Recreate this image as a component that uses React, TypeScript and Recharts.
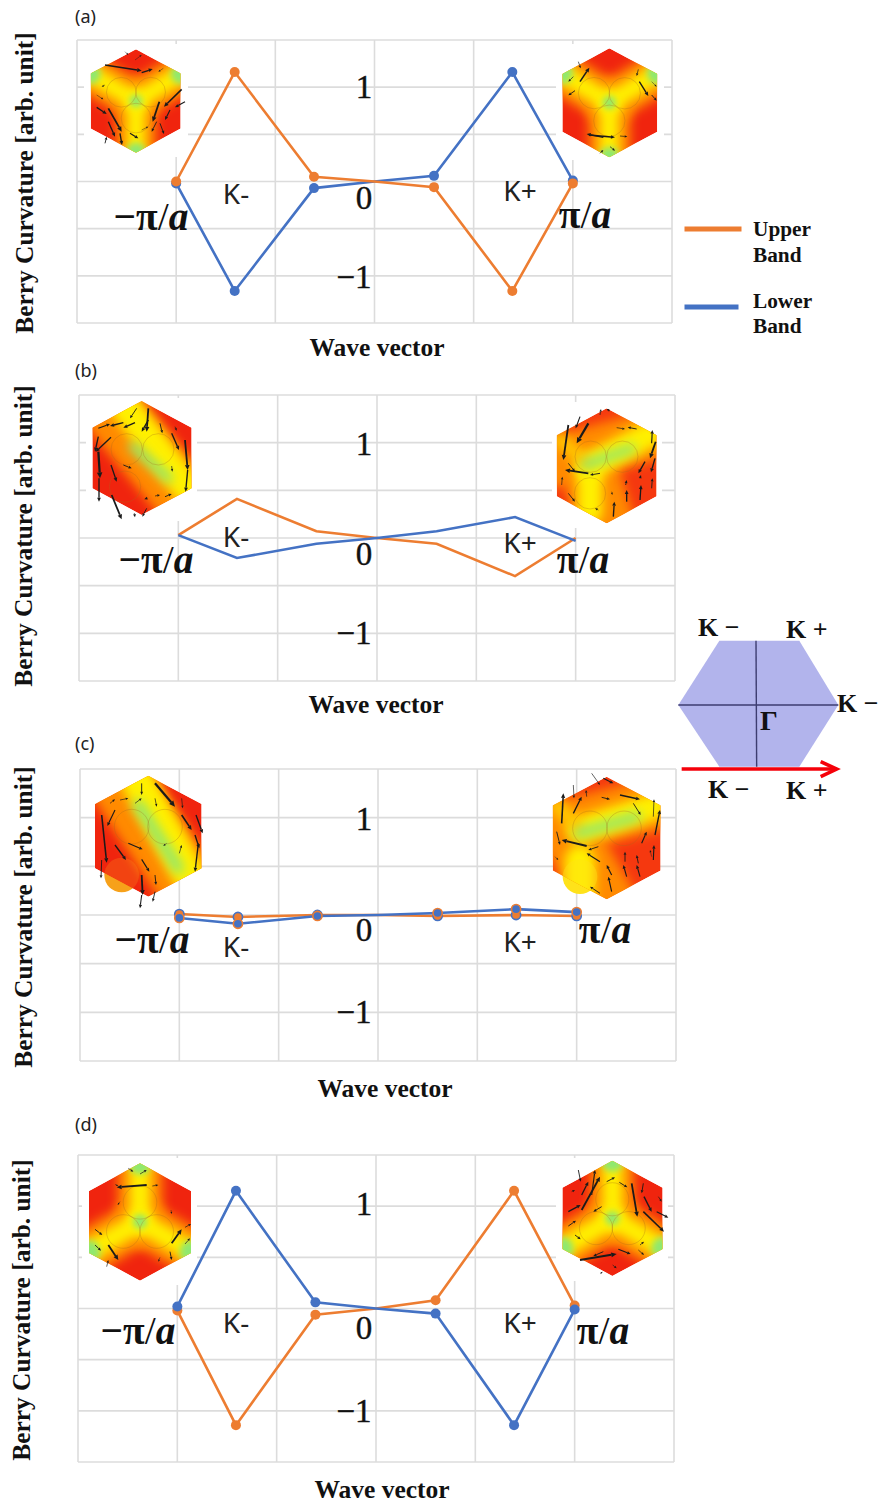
import React from "react";
import { LineChart, Line, XAxis, YAxis, CartesianGrid, Label, Legend, ReferenceArea } from "recharts";

const UPPER = "#ED7D31";
const LOWER = "#4472C4";
const GRID = "#dcdcdc";
const SERIF = "'Liberation Serif', serif";
const SANS = "'Noto Sans', 'Open Sans', sans-serif";

// shared wave-vector positions
const kPoints = [-2, -1.41, -0.61, 0, 0.6, 1.39, 2];
const xGridTicks = [-3, -2, -1, 0, 1, 2, 3];
const yGridTicks = [-1.5, -1, -0.5, 0, 0.5, 1, 1.5];

const upperA = [0, 1.16, 0.05, 0, -0.06, -1.16, -0.02];
const lowerA = [-0.02, -1.16, -0.07, 0, 0.06, 1.16, 0.01];
const upperB = [0.03, 0.41, 0.07, 0, -0.06, -0.4, 0];
const lowerB = [0.03, -0.21, -0.06, 0, 0.07, 0.22, -0.03];
const upperC = [0.01, -0.02, 0, 0, -0.01, 0, -0.01];
const lowerC = [-0.03, -0.09, -0.01, 0, 0.02, 0.06, 0.03];
const upperD = [-0.02, -1.14, -0.06, 0, 0.08, 1.15, 0.03];
const lowerD = [0.02, 1.15, 0.06, 0, -0.05, -1.14, -0.01];

const yTitle = "Berry Curvature [arb. unit]";
const xTitle = "Wave vector";

type P = {
  tag: string; tagY: number; frame: [number, number, number, number];
  upper: number[]; lower: number[]; xT: [number, number]; yT: [number, number];
  tick: Record<string, [number, number]>; dots: "plain" | "ring" | "none"; upperFirst: boolean;
  boxes: [number, number, number, number][];
  ann: { km: [number, number]; kp: [number, number]; nl: [number, number]; pl: [number, number] };
};

const panels: P[] = [
  { tag: "(a)", tagY: 23, frame: [77, 672, 40, 323], upper: upperA, lower: lowerA, xT: [377, 356], yT: [33, 183],
    tick: { "1": [364, 98], "0": [364, 209], "-1": [354, 288] }, dots: "plain", upperFirst: false,
    boxes: [[84, 44, 188, 157], [556, 44, 664, 160]],
    ann: { km: [236, 204], kp: [520, 201], nl: [151, 230], pl: [585, 228] } },
  { tag: "(b)", tagY: 377, frame: [79, 675, 395, 681], upper: upperB, lower: lowerB, xT: [376, 713], yT: [32, 536],
    tick: { "1": [364, 455], "0": [364, 565], "-1": [354, 644] }, dots: "none", upperFirst: true,
    boxes: [[86, 398, 197, 521], [552, 402, 662, 528]],
    ann: { km: [236, 547], kp: [520, 553], nl: [156, 573], pl: [583, 573] } },
  { tag: "(c)", tagY: 750, frame: [80, 676, 769, 1061], upper: upperC, lower: lowerC, xT: [385, 1097], yT: [32, 917],
    tick: { "1": [364, 830], "0": [364, 941], "-1": [354, 1023] }, dots: "ring", upperFirst: true,
    boxes: [],
    ann: { km: [236, 957], kp: [520, 952], nl: [152, 953], pl: [605, 943] } },
  { tag: "(d)", tagY: 1131, frame: [78, 674, 1155, 1462], upper: upperD, lower: lowerD, xT: [382, 1498], yT: [30, 1310],
    tick: { "1": [364, 1215], "0": [364, 1339], "-1": [354, 1422] }, dots: "plain", upperFirst: true,
    boxes: [[82, 1158, 197, 1285], [556, 1158, 668, 1281]],
    ann: { km: [236, 1333], kp: [520, 1333], nl: [138, 1344], pl: [603, 1344] } },
];

const rows = (p: P) => kPoints.map((k, i) => ({ k, upper: p.upper[i], lower: p.lower[i] }));

function PanelChart({ p, legend }: { p: P; legend?: boolean }) {
  const [L, R, T, B] = p.frame;
  const chartTop = T - 10;
  const H = Math.min(B - T + 10 + 60, 1503 - chartTop);
  const xH = H - 10 - (B - T);
  const toX = (px: number) => ((px - L) / (R - L)) * 6 - 3;
  const toY = (py: number) => 1.5 - ((py - T) / (B - T)) * 3;
  const dot = (color: string, ring: string | null) => (d: any) => {
    if (p.dots === "none" || d.index === 3) return <g key={d.key ?? d.index} />;
    return <circle key={d.key ?? d.index} cx={d.cx} cy={d.cy} r={ring ? 4.6 : 5} fill={color} stroke={ring ?? color} strokeWidth={ring ? 1.6 : 0} />;
  };
  const lineU = <Line key="u" dataKey="upper" name="Upper Band" stroke={UPPER} strokeWidth={2.6} isAnimationActive={false} dot={dot(UPPER, p.dots === "ring" ? LOWER : null)} activeDot={false} />;
  const lineL = <Line key="l" dataKey="lower" name="Lower Band" stroke={LOWER} strokeWidth={2.6} isAnimationActive={false} dot={dot(LOWER, p.dots === "ring" ? UPPER : null)} activeDot={false} />;
  const yTick = (t: any) => {
    const key = String(t.payload.value);
    const pos = p.tick[key];
    if (!pos) return <g />;
    return (
      <text x={pos[0]} y={pos[1] - chartTop} textAnchor="middle" fontFamily={SERIF} fontSize={33} fill="#111" stroke="#111" strokeWidth={0.4}>
        {key === "-1" ? "\u22121" : key}
      </text>
    );
  };
  return (
    <div style={{ position: "absolute", left: 0, top: chartTop }}>
      <LineChart width={880} height={H} data={rows(p)} margin={{ top: 10, right: 880 - R, bottom: 0, left: 0 }}>
        <CartesianGrid stroke={GRID} strokeWidth={1.6} verticalValues={xGridTicks} horizontalValues={yGridTicks} />
        {p.boxes.map((b, i) => (
          <ReferenceArea key={i} x1={toX(b[0])} x2={toX(b[2])} y1={toY(b[3])} y2={toY(b[1])} fill="#fff" fillOpacity={1} stroke="none" ifOverflow="visible" />
        ))}
        <XAxis dataKey="k" type="number" domain={[-3, 3]} ticks={xGridTicks} tick={() => <g />} tickLine={false} axisLine={false} height={xH} interval={0}>
          <Label content={() => (
            <text x={p.xT[0]} y={p.xT[1] - chartTop} textAnchor="middle" fontFamily={SERIF} fontWeight={700} fontSize={25.5} fill="#111">{xTitle}</text>
          )} />
        </XAxis>
        <YAxis type="number" domain={[-1.5, 1.5]} ticks={yGridTicks} width={L} tick={yTick} tickLine={false} axisLine={false} interval={0}>
          <Label content={() => (
            <text transform={`translate(${p.yT[0]},${p.yT[1] - chartTop}) rotate(-90)`} textAnchor="middle" fontFamily={SERIF} fontWeight={700} fontSize={25.4} fill="#111">{yTitle}</text>
          )} />
        </YAxis>
        {p.upperFirst ? [lineU, lineL] : [lineL, lineU]}
        {legend && (
          <Legend layout="vertical" align="center" verticalAlign="middle"
            wrapperStyle={{ left: 680, top: 175, width: 170, height: 140 }}
            content={(lp: any) => {
              const items = [...(lp.payload ?? [])].sort((a: any, b: any) => (a.value < b.value ? 1 : -1));
              return (
                <svg width={170} height={140} style={{ display: "block" }}>
                  {items.map((it: any, i: number) => {
                    const [a, b] = String(it.value).split(" ");
                    const y0 = i === 0 ? 24 : 102;
                    const tx = i === 0 ? y0 + 7 : y0 + 0.5;
                    return (
                      <g key={it.value}>
                        <rect x={4.5} y={y0 - 2.5} width={i === 0 ? 57 : 54} height={5} fill={it.color} />
                        <text x={73} y={tx} fontFamily={SERIF} fontWeight={700} fontSize={21.3} fill="#111">{a}</text>
                        <text x={73} y={tx + 25.5} fontFamily={SERIF} fontWeight={700} fontSize={21.3} fill="#111">{b}</text>
                      </g>
                    );
                  })}
                </svg>
              );
            }} />
        )}
      </LineChart>
    </div>
  );
}

// ---------- Hexagon insets (decorative heat-maps; coordinates in 3x crop pixels) ----------
type Band = [number, number, number, number, number, string];
type Inset = {
  o: [number, number]; hex: [number, number, number, number, number]; // left,right,top,bottom, centre x
  base: string; bands: Band[]; blobs: [number, number, number, string][]; circles: [number, number, number][];
  filled?: [number, number, number, string, number]; arrows: number[][];
};
const OR = "#ff8a00", YE = "#fff000", GR = "#8fe870";

function tri(cx: number, cy: number, vs: [number, number][], W: number): { bands: Band[]; blobs: [number, number, number, string][]; circles: [number, number, number][] } {
  const bands: Band[] = [];
  const blobs: [number, number, number, string][] = [];
  const circles: [number, number, number][] = [];
  vs.forEach(([x, y]) => {
    bands.push([cx, cy, x, y, 0.44 * W, OR]);
  });
  vs.forEach(([x, y]) => {
    bands.push([cx, cy, x, y, 0.2 * W, YE]);
    blobs.push([x, y, 0.11 * W, GR]);
    const d = Math.hypot(x - cx, y - cy);
    circles.push([cx + ((x - cx) / d) * 0.19 * W, cy + ((y - cy) / d) * 0.19 * W, 0.165 * W]);
  });
  blobs.push([cx, cy, 0.07 * W, GR]);
  return { bands, blobs, circles };
}

const insets: Inset[] = [
  { o: [60, 0], hex: [92, 362, 148, 458, 228], base: "#f0240e", ...tri(228, 303, [[92, 222], [362, 222], [228, 458]], 270),
    arrows: [[135, 195, 245, 212, 3.5], [245, 218, 278, 207, 3], [365, 268, 312, 320, 3.5], [298, 305, 278, 365, 4], [330, 330, 315, 360, 2.5], [375, 305, 345, 322, 2.5], [110, 322, 140, 342, 3], [145, 325, 185, 395, 4], [145, 365, 165, 410, 3], [180, 400, 186, 435, 3], [210, 400, 235, 415, 2.5], [300, 370, 312, 402, 2], [290, 365, 275, 395, 2], [135, 255, 125, 260, 1], [110, 285, 130, 298, 1], [245, 390, 265, 380, 1], [195, 155, 205, 165, 1], [225, 180, 245, 165, 1], [310, 205, 295, 215, 1], [135, 430, 140, 410, 2]] },
  { o: [540, 30], hex: [67, 352, 55, 382, 208], base: "#f0240e", ...tri(208, 218, [[67, 130], [352, 130], [208, 382]], 285),
    arrows: [[120, 155, 148, 113, 3.5], [115, 95, 122, 115, 1.5], [100, 140, 85, 155, 1.5], [105, 182, 85, 196, 2], [298, 155, 325, 198, 3], [335, 195, 350, 212, 2], [295, 118, 290, 138, 1.5], [148, 315, 225, 322, 3], [190, 322, 140, 312, 3], [240, 318, 262, 320, 1.5], [180, 370, 190, 360, 1.5], [210, 350, 225, 362, 1.5], [335, 155, 350, 170, 1]] },
  { o: [75, 390], hex: [52, 350, 33, 375, 200], base: "#f0240e",
    bands: [[110, 60, 340, 340, 180, OR], [150, 50, 340, 300, 90, YE], [175, 170, 280, 265, 28, GR]], blobs: [], circles: [[155, 178, 47], [250, 178, 47], [150, 290, 47]],
    arrows: [[185, 55, 165, 85, 2], [220, 55, 215, 125, 4], [220, 90, 200, 125, 3], [145, 98, 105, 108, 3], [180, 98, 145, 113, 3], [70, 115, 105, 102, 2.5], [70, 140, 60, 185, 3], [108, 142, 62, 185, 3], [70, 185, 75, 265, 5], [72, 265, 72, 335, 3], [108, 225, 125, 275, 3], [110, 315, 140, 388, 4], [255, 100, 262, 130, 2], [290, 130, 312, 180, 3], [330, 150, 338, 240, 4], [338, 240, 332, 305, 3], [300, 110, 305, 122, 1.5], [145, 225, 170, 235, 2], [290, 228, 292, 245, 1.5], [215, 325, 208, 328, 2], [240, 318, 255, 315, 1.5], [270, 320, 290, 312, 2], [178, 370, 180, 382, 2], [215, 355, 202, 380, 2]] },
  { o: [535, 395], hex: [65, 365, 40, 385, 215], base: "#f5380f",
    bands: [[60, 200, 350, 120, 150, OR], [165, 230, 215, 390, 170, OR], [160, 215, 340, 120, 80, YE], [165, 230, 165, 350, 75, YE], [70, 130, 150, 200, 40, "#ffc800"], [150, 210, 290, 160, 28, GR]], blobs: [], circles: [[167, 185, 47], [262, 185, 47], [165, 295, 47]],
    arrows: [[100, 90, 85, 195, 4], [135, 65, 122, 100, 2.5], [160, 85, 125, 145, 5], [195, 60, 198, 42, 1.5], [225, 48, 215, 42, 1.5], [245, 98, 270, 102, 1.5], [305, 102, 278, 97, 2], [350, 145, 352, 105, 2.5], [362, 140, 345, 190, 4], [360, 190, 348, 232, 3], [330, 200, 310, 235, 3], [160, 235, 90, 225, 4], [100, 205, 120, 230, 2], [195, 235, 165, 240, 2], [80, 270, 82, 245, 1.5], [100, 295, 120, 320, 2], [190, 345, 180, 340, 1.5], [235, 365, 238, 320, 3], [275, 320, 275, 285, 3], [230, 290, 232, 300, 1], [315, 315, 318, 270, 3], [272, 270, 275, 255, 2], [315, 250, 318, 240, 2], [350, 280, 352, 250, 2]] },
  { o: [60, 760], hex: [105, 425, 47, 410, 265], base: "#f0240e",
    bands: [[150, 20, 400, 400, 190, OR], [220, 40, 390, 350, 100, YE], [235, 135, 355, 325, 34, GR]], blobs: [], circles: [[215, 200, 52], [315, 200, 52]],
    filled: [185, 345, 52, "#f7a11a", 0.25],
    arrows: [[285, 70, 345, 140, 5], [245, 70, 245, 105, 2], [225, 130, 245, 115, 1.5], [180, 120, 205, 115, 1.5], [150, 130, 165, 118, 1.5], [285, 115, 290, 140, 1.5], [365, 115, 368, 145, 1.5], [365, 165, 395, 210, 3.5], [408, 165, 428, 220, 3], [165, 150, 142, 198, 2.5], [125, 165, 140, 308, 3.5], [125, 300, 123, 355, 2], [165, 255, 198, 300, 3], [205, 250, 248, 268, 2.5], [245, 298, 268, 335, 2.5], [285, 345, 288, 375, 2], [245, 345, 248, 405, 4], [245, 405, 240, 445, 2.5], [285, 395, 278, 425, 2], [415, 250, 405, 335, 3], [358, 280, 365, 255, 1.5], [320, 250, 310, 258, 1], [405, 225, 418, 265, 3]] },
  { o: [480, 760], hex: [218, 542, 50, 418, 380], base: "#f5380f",
    bands: [[220, 210, 530, 130, 160, OR], [300, 280, 380, 420, 170, OR], [300, 210, 520, 140, 80, YE], [300, 300, 300, 400, 90, YE], [225, 130, 290, 200, 45, "#ffc800"], [295, 220, 470, 170, 30, GR]], blobs: [], circles: [[330, 205, 52], [432, 205, 52]],
    filled: [300, 350, 52, "#ffe21a", 0.4],
    arrows: [[335, 40, 360, 75, 1.5], [370, 55, 400, 70, 2.5], [280, 75, 282, 115, 1.5], [280, 160, 305, 110, 3], [245, 190, 250, 100, 3.5], [320, 110, 318, 90, 1.5], [365, 112, 390, 118, 2], [420, 105, 480, 118, 3], [460, 130, 482, 165, 2], [230, 215, 240, 255, 2], [320, 258, 245, 240, 4], [355, 260, 325, 270, 2], [520, 170, 522, 118, 1.5], [525, 225, 540, 150, 3], [485, 250, 500, 215, 2.5], [520, 300, 522, 255, 2.5], [360, 305, 320, 280, 2.5], [435, 305, 435, 275, 2], [475, 310, 470, 285, 2], [440, 350, 430, 315, 2.5], [480, 350, 470, 315, 2.5], [395, 345, 380, 315, 2.5], [395, 395, 385, 350, 2.5], [360, 400, 330, 380, 2], [225, 290, 235, 300, 1], [515, 290, 510, 270, 1]] },
  { o: [75, 1150], hex: [42, 348, 40, 392, 195], base: "#f0240e", ...tri(195, 215, [[195, 40], [42, 305], [348, 305]], 306),
    arrows: [[215, 105, 125, 112, 4], [160, 55, 175, 65, 1.5], [195, 72, 215, 60, 1.5], [232, 108, 250, 105, 1.5], [120, 103, 130, 108, 1], [135, 155, 128, 165, 1], [290, 280, 320, 238, 4], [330, 232, 348, 222, 1.5], [330, 282, 345, 265, 1.5], [285, 305, 290, 330, 2], [100, 285, 130, 330, 4], [60, 238, 82, 255, 2], [60, 285, 78, 302, 2], [95, 350, 100, 330, 1.5], [255, 322, 250, 335, 1], [288, 180, 290, 192, 1]] },
  { o: [540, 1150], hex: [67, 368, 32, 378, 217], base: "#f0240e", ...tri(217, 205, [[217, 32], [67, 295], [368, 295]], 301),
    arrows: [[115, 60, 122, 95, 2], [125, 135, 145, 95, 3], [155, 135, 165, 60, 2.5], [125, 180, 180, 80, 4], [85, 185, 122, 165, 3], [200, 95, 225, 82, 2], [185, 170, 160, 185, 2], [85, 228, 108, 212, 2], [95, 125, 105, 120, 1.5], [238, 97, 262, 112, 2], [275, 100, 292, 200, 4], [310, 100, 305, 130, 2], [312, 140, 335, 185, 3], [310, 185, 372, 245, 3.5], [350, 185, 385, 203, 2.5], [355, 140, 365, 155, 1.5], [120, 330, 230, 312, 4.5], [235, 298, 272, 312, 2.5], [190, 305, 160, 318, 2], [105, 255, 122, 268, 2], [295, 300, 312, 315, 1.5], [300, 285, 312, 275, 1.5], [218, 345, 230, 355, 1.5], [180, 372, 188, 365, 1]] },
];

function Arrow({ a }: { a: number[] }) {
  const [x1, y1, x2, y2, w0] = a;
  const w = w0 * 1.35;
  const d = Math.hypot(x2 - x1, y2 - y1) || 1;
  const ux = (x2 - x1) / d, uy = (y2 - y1) / d;
  const h = 4 + w * 2, s = 1.5 + w;
  const bx = x2 - ux * h, by = y2 - uy * h;
  return (
    <g>
      <line x1={x1} y1={y1} x2={bx} y2={by} stroke="#1a1a1a" strokeWidth={w} />
      <polygon points={`${x2},${y2} ${bx - uy * s},${by + ux * s} ${bx + uy * s},${by - ux * s}`} fill="#1a1a1a" />
    </g>
  );
}

function Hex({ ins, id }: { ins: Inset; id: number }) {
  const [l, r, t, b, c] = ins.hex;
  const q = (b - t) * 0.235;
  const pts = `${c},${t} ${r},${t + q} ${r},${b - q} ${c},${b} ${l},${b - q} ${l},${t + q}`;
  return (
    <g transform={`translate(${ins.o[0]},${ins.o[1]}) scale(${1 / 3})`}>
      <defs>
        <clipPath id={`hc${id}`}><polygon points={pts} /></clipPath>
      </defs>
      {ins.filled && <circle cx={ins.filled[0]} cy={ins.filled[1]} r={ins.filled[2]} fill={ins.filled[3]} />}
      <g clipPath={`url(#hc${id})`}>
        <polygon points={pts} fill={ins.base} />
        {ins.bands.map((s, i) => (
          <line key={i} x1={s[0]} y1={s[1]} x2={s[2]} y2={s[3]} stroke={s[5]} strokeWidth={s[4]} strokeLinecap="round" filter="url(#blurA)" />
        ))}
        {ins.blobs.map((s, i) => <circle key={i} cx={s[0]} cy={s[1]} r={s[2]} fill={s[3]} filter="url(#blurB)" />)}
        {ins.filled && <circle cx={ins.filled[0]} cy={ins.filled[1]} r={ins.filled[2]} fill={ins.filled[3]} opacity={ins.filled[4]} />}
      </g>
      {ins.circles.map((s, i) => <circle key={i} cx={s[0]} cy={s[1]} r={s[2]} fill="none" stroke="#a8691a" strokeOpacity={0.45} strokeWidth={2} />)}
      {ins.arrows.map((a, i) => <Arrow key={i} a={a} />)}
    </g>
  );
}

function PiLabel({ x, y, neg, size = 39.5 }: { x: number; y: number; neg: boolean; size?: number }) {
  return (
    <text x={x} y={y} textAnchor="middle" fontFamily={SERIF} fontSize={size} fill="#111" fontWeight={700}>
      {neg ? "\u2212\u03c0" : "\u03c0"}
      <tspan fontWeight={400}>/</tspan>
      <tspan fontStyle="italic">a</tspan>
    </text>
  );
}

const bzLabels: [string, number, number][] = [
  ["K \u2212", 698, 636], ["K +", 786, 638], ["K \u2212", 837, 712], ["K \u2212", 708, 798], ["K +", 786, 799],
];

function Overlay() {
  const z = (x: number, y: number) => `${660 + x / 3},${600 + y / 3}`;
  return (
    <svg width={880} height={1503} style={{ position: "absolute", left: 0, top: 0, pointerEvents: "none" }}>
      <defs>
        <filter id="blurA" filterUnits="userSpaceOnUse" x={-300} y={-300} width={1200} height={1200}><feGaussianBlur stdDeviation={16} /></filter>
        <filter id="blurB" filterUnits="userSpaceOnUse" x={-300} y={-300} width={1200} height={1200}><feGaussianBlur stdDeviation={9} /></filter>
      </defs>
      {insets.map((ins, i) => <Hex key={i} ins={ins} id={i} />)}
      {panels.map((p) => (
        <g key={p.tag}>
          <text x={75} y={p.tagY} fontFamily={SANS} fontSize={18} fill="#222">{p.tag}</text>
          <text x={p.ann.km[0]} y={p.ann.km[1]} textAnchor="middle" fontFamily={SANS} fontSize={28} fill="#222">K-</text>
          <text x={p.ann.kp[0]} y={p.ann.kp[1]} textAnchor="middle" fontFamily={SANS} fontSize={28} fill="#222">K+</text>
          <PiLabel x={p.ann.nl[0]} y={p.ann.nl[1]} neg />
          <PiLabel x={p.ann.pl[0]} y={p.ann.pl[1]} neg={false} />
        </g>
      ))}
      {/* Brillouin zone */}
      <polygon points={[z(178, 122), z(418, 122), z(535, 315), z(418, 500), z(178, 500), z(55, 315)].join(" ")} fill="#b2b4ec" />
      <polyline points={[z(55, 315), z(535, 315)].join(" ")} stroke="#3d3d70" strokeWidth={1.4} fill="none" />
      <polyline points={[z(288, 122), z(290, 500)].join(" ")} stroke="#3d3d70" strokeWidth={1.4} fill="none" />
      <polyline points={[z(65, 507), z(530, 507)].join(" ")} stroke="#f5000a" strokeWidth={3.6} fill="none" />
      <polyline points={[z(482, 485), z(530, 507), z(482, 530)].join(" ")} stroke="#f5000a" strokeWidth={3.6} fill="none" />
      {bzLabels.map(([s, x, y], i) => (
        <text key={i} x={x} y={y} fontFamily={SERIF} fontWeight={700} fontSize={26} fill="#111">{s}</text>
      ))}
      <text x={760} y={730} fontFamily={SERIF} fontWeight={700} fontSize={28} fill="#111">{"\u0393"}</text>
    </svg>
  );
}

export default function App() {
  return (
    <div style={{ position: "absolute", left: 0, top: 0, width: 880, height: 1503, background: "#fff", overflow: "hidden" }}>
      {panels.map((p, i) => <PanelChart key={p.tag} p={p} legend={i === 0} />)}
      <Overlay />
    </div>
  );
}
